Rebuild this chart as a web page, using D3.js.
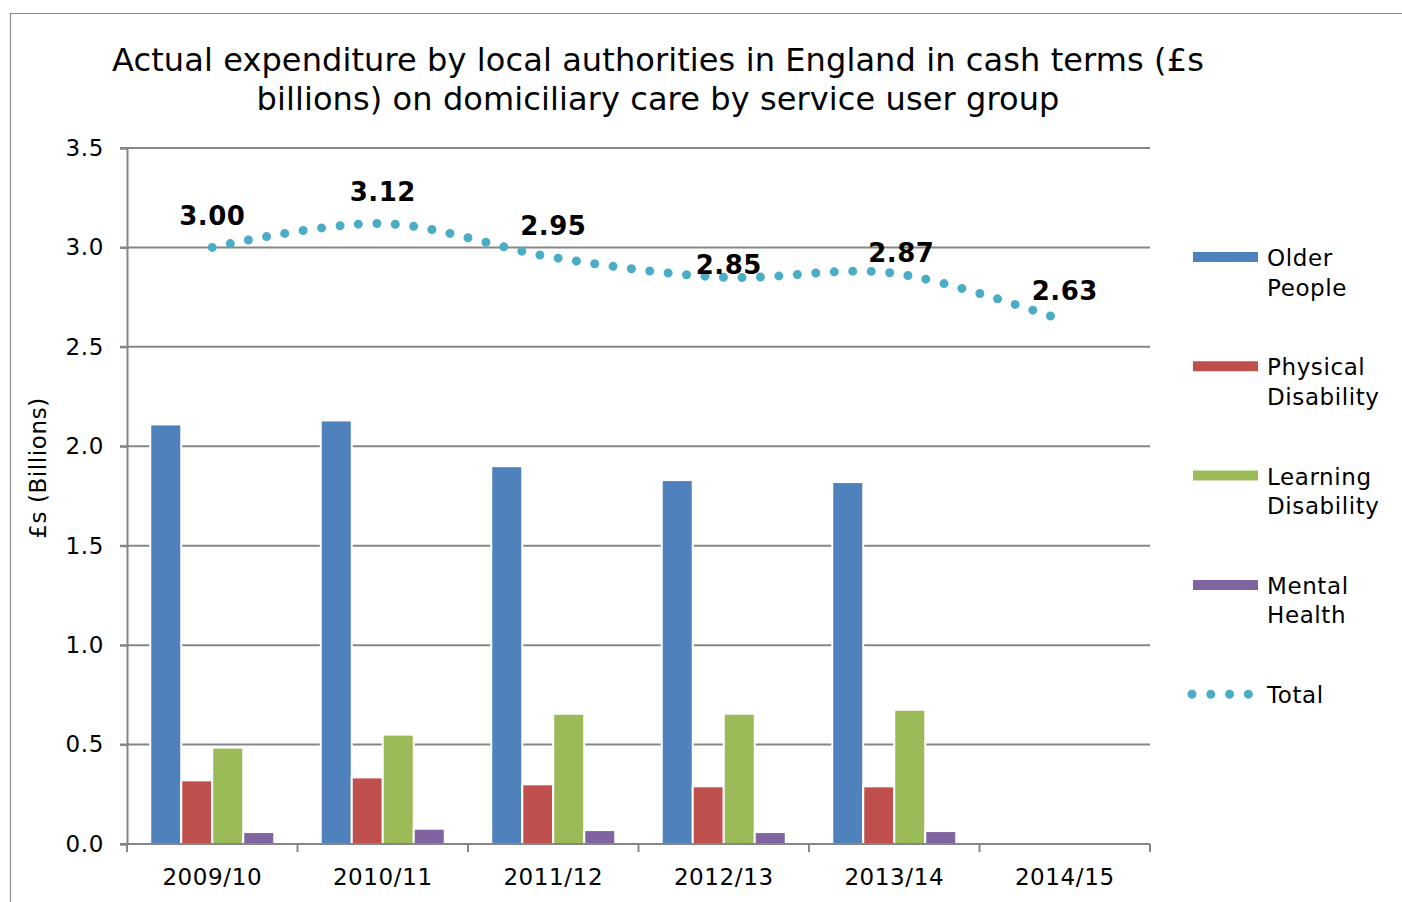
<!DOCTYPE html>
<html lang="en">

<head>
    <meta charset="UTF-8">
    <title>Domiciliary care expenditure</title>
    <style>
        body {
            margin: 0;
            overflow: hidden;
            background: #fff;
        }

        svg text {
            font-family: Verdana, "DejaVu Sans", sans-serif;
            fill: #000;
        }

        .lbl {
            font-size: 23px;
            letter-spacing: 0.6px;
        }
    </style>
</head>

<body>
    <svg id="chart" width="1402" height="902"></svg>
    <script src="https://cdn.jsdelivr.net/npm/d3@7"></script>
    <script>
        // data (£ billions)
        const years = ["2009/10", "2010/11", "2011/12", "2012/13", "2013/14", "2014/15"];
        const groups = ["Older People", "Physical Disability", "Learning Disability", "Mental Health"];
        const olderPeople = [2.11, 2.13, 1.90, 1.83, 1.82, null];
        const physicalDisability = [0.32, 0.335, 0.30, 0.29, 0.29, null];
        const learningDisability = [0.485, 0.55, 0.655, 0.655, 0.675, null];
        const mentalHealth = [0.06, 0.077, 0.07, 0.06, 0.065, null];
        const total = [3.00, 3.12, 2.95, 2.85, 2.87, 2.63];
        const yTicks = [0, 0.5, 1.0, 1.5, 2.0, 2.5, 3.0, 3.5];

        const series = [olderPeople, physicalDisability, learningDisability, mentalHealth];
        const colors = ["#4f81bd", "#c0504d", "#9bbb59", "#8064a2"];
        const totalColor = "#4bacc6";
        const grid = "#868686";

        // label nudges (layout, not data) to follow the original's placement
        const labelDx = [0, 0, 0, 5, 7, 0];
        const labelDy = [-22, -23, -22, -3, -11, -21];

        const svg = d3.select("#chart");

        // outer frame (top and left edges only visible)
        svg.append("path")
            .attr("d", "M10.5,902 V13.5 H1402")
            .attr("fill", "none")
            .attr("stroke", "#8c8c8c")
            .attr("stroke-width", 1.2);

        const plotL = 127, plotR = 1150, plotT = 148, plotB = 844;

        const x = d3.scaleBand().domain(years).range([plotL, plotR]);
        const xSub = d3.scaleBand().domain(groups).range([0, x.bandwidth()]).paddingOuter(0.75);
        const y = d3.scaleLinear().domain([0, 3.5]).range([plotB, plotT]);

        // title
        const title = svg.append("text")
            .attr("text-anchor", "middle")
            .style("font-size", "32px")
            .style("letter-spacing", "0.1px");
        title.append("tspan").attr("x", 658).attr("y", 71)
            .text("Actual expenditure by local authorities in England in cash terms (£s");
        title.append("tspan").attr("x", 658).attr("y", 110)
            .text("billions) on domiciliary care by service user group");

        // gridlines
        svg.append("g")
            .selectAll("line")
            .data(yTicks.filter(d => d > 0))
            .join("line")
            .attr("x1", plotL - 7)
            .attr("x2", plotR)
            .attr("y1", d => y(d))
            .attr("y2", d => y(d))
            .attr("stroke", grid)
            .attr("stroke-width", 2);

        // y axis
        const yAxis = svg.append("g")
            .attr("transform", `translate(${plotL},0)`)
            .call(d3.axisLeft(y).tickValues(yTicks).tickFormat(d3.format(".1f")).tickSize(7).tickPadding(16));
        yAxis.select(".domain").attr("stroke", grid).attr("stroke-width", 2);
        yAxis.selectAll(".tick line").attr("stroke", grid).attr("stroke-width", 2);
        yAxis.selectAll(".tick text")
            .attr("class", "lbl")
            .attr("font-size", null)
            .attr("fill", "#000");
        yAxis.attr("font-size", null).attr("font-family", null);

        svg.append("text")
            .attr("class", "lbl")
            .attr("transform", "translate(46,468) rotate(-90)")
            .attr("text-anchor", "middle")
            .text("£s (Billions)");

        // bars
        const barGroups = svg.append("g")
            .selectAll("g")
            .data(years)
            .join("g")
            .attr("transform", d => `translate(${x(d)},0)`);

        barGroups.selectAll("rect")
            .data((d, i) => series.map((s, k) => ({ key: groups[k], value: s[i], color: colors[k] }))
                .filter(e => e.value != null))
            .join("rect")
            .attr("x", d => xSub(d.key))
            .attr("width", xSub.bandwidth())
            .attr("y", d => y(d.value))
            .attr("height", d => y(0) - y(d.value))
            .attr("fill", d => d.color)
            .attr("stroke", "#fff")
            .attr("stroke-width", 2);

        // x axis
        const xAxis = svg.append("g")
            .attr("transform", `translate(0,${plotB})`);
        xAxis.append("line")
            .attr("x1", plotL - 7).attr("x2", plotR)
            .attr("stroke", grid).attr("stroke-width", 2);
        xAxis.selectAll(".tk")
            .data(years.concat(["end"]))
            .join("line")
            .attr("class", "tk")
            .attr("x1", (d, i) => i < years.length ? x(d) : plotR)
            .attr("x2", (d, i) => i < years.length ? x(d) : plotR)
            .attr("y1", 0).attr("y2", 8)
            .attr("stroke", grid).attr("stroke-width", 2);
        xAxis.selectAll("text")
            .data(years)
            .join("text")
            .attr("class", "lbl")
            .attr("x", d => x(d) + x.bandwidth() / 2)
            .attr("y", 41)
            .attr("text-anchor", "middle")
            .text(d => d);

        // total line (smoothed, dotted)
        const line = d3.line()
            .x((d, i) => x(years[i]) + x.bandwidth() / 2)
            .y(d => y(d))
            .curve(d3.curveCardinal.tension(0));

        svg.append("path")
            .datum(total)
            .attr("d", line)
            .attr("fill", "none")
            .attr("stroke", totalColor)
            .attr("stroke-width", 9)
            .attr("stroke-linecap", "round")
            .attr("stroke-dasharray", "0 18.5");

        svg.append("g")
            .selectAll("text")
            .data(total)
            .join("text")
            .attr("x", (d, i) => x(years[i]) + x.bandwidth() / 2 + labelDx[i])
            .attr("y", (d, i) => y(d) + labelDy[i])
            .attr("text-anchor", "middle")
            .style("font-size", "26px")
            .style("font-weight", "bold")
            .style("letter-spacing", "0.5px")
            .text(d => d3.format(".2f")(d));

        // legend
        const legendNames = [["Older", "People"], ["Physical", "Disability"], ["Learning", "Disability"], ["Mental", "Health"]];
        const legend = svg.append("g");
        legendNames.forEach((names, i) => {
            const ly = 257 + i * 109.3;
            legend.append("line")
                .attr("x1", 1193).attr("x2", 1258)
                .attr("y1", ly).attr("y2", ly)
                .attr("stroke", colors[i])
                .attr("stroke-width", 10);
            const t = legend.append("text").attr("class", "lbl");
            names.forEach((n, j) => {
                t.append("tspan").attr("x", 1267).attr("y", ly + 9 + j * 29.5).text(n);
            });
        });
        const ty = 257 + 4 * 109.3;
        legend.append("line")
            .attr("x1", 1192).attr("x2", 1250)
            .attr("y1", ty).attr("y2", ty)
            .attr("stroke", totalColor)
            .attr("stroke-width", 9)
            .attr("stroke-linecap", "round")
            .attr("stroke-dasharray", "0 18.8");
        legend.append("text")
            .attr("class", "lbl")
            .attr("x", 1267).attr("y", ty + 9)
            .text("Total");
    </script>
</body>

</html>
